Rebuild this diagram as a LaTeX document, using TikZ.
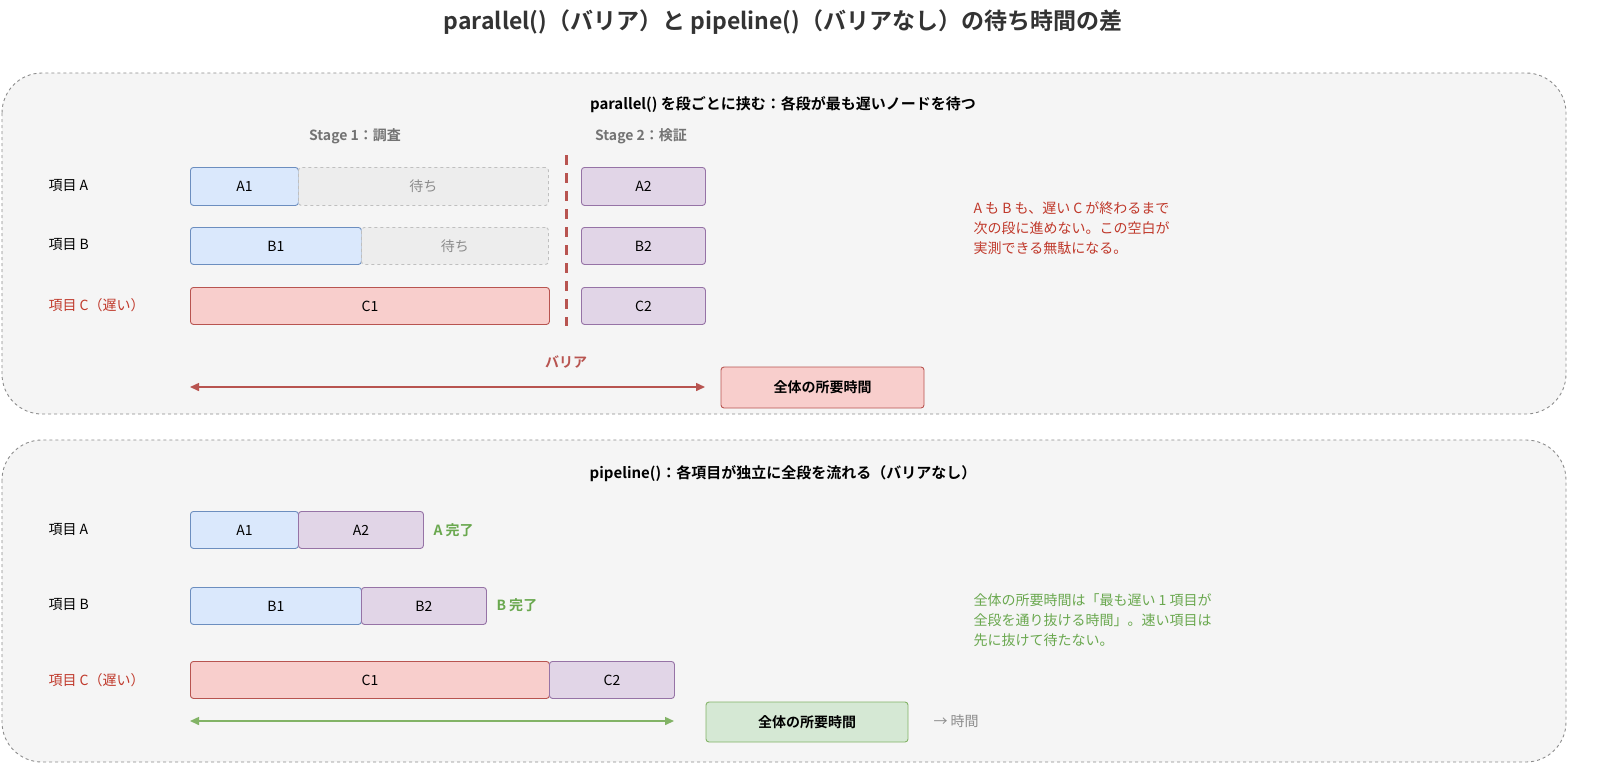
\documentclass[tikz,border=0pt]{standalone}
\usepackage{fontspec}
\setmainfont{Noto Sans CJK JP}[BoldFont={Noto Sans CJK JP Bold}]
\usetikzlibrary{arrows.meta}
\definecolor{bF}{HTML}{DAE8FC}\definecolor{bD}{HTML}{6C8EBF}
\definecolor{pF}{HTML}{E1D5E7}\definecolor{pD}{HTML}{9673A6}
\definecolor{rF}{HTML}{F8CECC}\definecolor{rD}{HTML}{B85450}
\definecolor{gF}{HTML}{D5E8D4}\definecolor{gD}{HTML}{82B366}
\definecolor{rT}{HTML}{C0392B}\definecolor{gT}{HTML}{6AA84F}
\begin{document}
\begin{tikzpicture}[x=1pt,y=-1pt,font=\fontsize{14}{17}\selectfont,
 bf/.style={font=\fontsize{14}{17}\selectfont\bfseries},
 panel/.style={draw=black!45,dashed,fill=black!4,rounded corners=40pt,line width=0.9pt},
 bar/.style={rounded corners=3pt,line width=0.9pt,anchor=north west,inner sep=0pt},
 blu/.style={bar,fill=bF,draw=bD},pur/.style={bar,fill=pF,draw=pD},
 red/.style={bar,fill=rF,draw=rD},wt/.style={bar,fill=black!7,draw=black!25,dashed,text=black!45},
 lab/.style={anchor=west},
 tot/.style={bf,rounded corners=3pt,line width=0.9pt,minimum height=40pt,minimum width=202pt}]
\useasboundingbox (0,0) rectangle (1600,780);
\node[font=\fontsize{23}{28}\selectfont\bfseries,text=black!80] (title) at (783,22) {parallel()（バリア）と pipeline()（バリアなし）の待ち時間の差};
\draw[panel] (2,73) rectangle (1566,414);
\draw[panel] (2,440) rectangle (1566,762);
% panel 1
\node[font=\fontsize{15}{18}\selectfont\bfseries] (h1) at (783,105) {parallel() を段ごとに挟む：各段が最も遅いノードを待つ};
\node[bf,text=black!55] (s1) at (355,136) {Stage 1：調査};
\node[bf,text=black!55] (s2) at (641,136) {Stage 2：検証};
\node[lab] (la) at (45,186) {項目 A};
\node[lab] (lb) at (45,245) {項目 B};
\node[lab,text=rT] (lc) at (45,305) {項目 C（遅い）};
\node[blu,minimum width=108pt,minimum height=38pt] (a1) at (190,167) {A1};
\node[wt,minimum width=250pt,minimum height=38pt] (wa) at (298,167) {待ち};
\node[blu,minimum width=171pt,minimum height=37pt] (b1) at (190,227) {B1};
\node[wt,minimum width=187pt,minimum height=37pt] (wb) at (361,227) {待ち};
\node[red,minimum width=359pt,minimum height=37pt] (c1) at (190,287) {C1};
\node[pur,minimum width=124pt,minimum height=38pt] (a2) at (581,167) {A2};
\node[pur,minimum width=124pt,minimum height=37pt] (b2) at (581,227) {B2};
\node[pur,minimum width=124pt,minimum height=37pt] (c2) at (581,287) {C2};
\coordinate (bt) at (566,155); \coordinate (bb) at (566,326);
\draw[rD,line width=3pt,dash pattern=on 10pt off 8pt] (bt) -- (bb);
\node[bf,text=rD] (bar) at (566,362) {バリア};
\coordinate (p1) at (190,387); \coordinate (p2) at (705,387);
\draw[rD,line width=1.5pt,{Triangle[length=9pt,width=8pt]}-{Triangle[length=9pt,width=8pt]}] (p1) -- (p2);
\node[tot,fill=rF,draw=rD,minimum width=203pt,minimum height=41pt] (t1) at (822.5,387.5) {全体の所要時間};
\node[anchor=north west,align=left,text=rT,font=\fontsize{14}{20}\selectfont] (n1) at (970,198) {A も B も、遅い C が終わるまで\\次の段に進めない。この空白が\\実測できる無駄になる。};
% panel 2
\node[font=\fontsize{15}{18}\selectfont\bfseries] (h2) at (783,474) {pipeline()：各項目が独立に全段を流れる（バリアなし）};
\node[lab] (la2) at (45,530) {項目 A};
\node[lab] (lb2) at (45,605) {項目 B};
\node[lab,text=rT] (lc2) at (45,680) {項目 C（遅い）};
\node[blu,minimum width=108pt,minimum height=37pt] (pa1) at (190,511) {A1};
\node[pur,minimum width=125pt,minimum height=37pt] (pa2) at (298,511) {A2};
\node[blu,minimum width=171pt,minimum height=37pt] (pb1) at (190,587) {B1};
\node[pur,minimum width=125pt,minimum height=37pt] (pb2) at (361,587) {B2};
\node[red,minimum width=359pt,minimum height=37pt] (pc1) at (190,661) {C1};
\node[pur,minimum width=125pt,minimum height=37pt] (pc2) at (549,661) {C2};
\node[lab,bf,text=gT] (da) at (430,530) {A 完了};
\node[lab,bf,text=gT] (db) at (493,605) {B 完了};
\coordinate (q1) at (190,721); \coordinate (q2) at (674,721);
\draw[gD,line width=1.5pt,{Triangle[length=9pt,width=8pt]}-{Triangle[length=9pt,width=8pt]}] (q1) -- (q2);
\node[tot,fill=gF,draw=gD] (t2) at (807,722) {全体の所要時間};
\node[lab,text=black!45] (time) at (930,721) {→ 時間};
\node[anchor=north west,align=left,text=gT,font=\fontsize{14}{20}\selectfont] (n2) at (970,590) {全体の所要時間は「最も遅い 1 項目が\\全段を通り抜ける時間」。速い項目は\\先に抜けて待たない。};
\end{tikzpicture}
\end{document}
